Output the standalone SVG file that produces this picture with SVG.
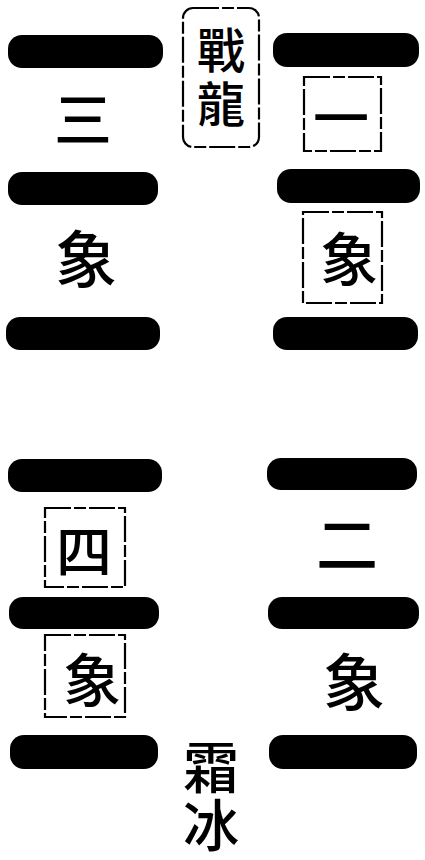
<svg xmlns="http://www.w3.org/2000/svg" width="425" height="860" viewBox="0 0 425 860">
<style>
.bar{fill:#000}
.box{fill:none;stroke:#000;stroke-width:2.2;stroke-dasharray:26 3 12 3}
.t{font-family:"Noto Sans CJK TC","Noto Sans CJK SC",serif;font-weight:500;fill:#000;text-anchor:middle;dominant-baseline:central}
.v{font-family:"Noto Sans CJK TC","Noto Sans CJK SC",serif;font-weight:500;fill:#000;text-anchor:middle;writing-mode:vertical-rl}
</style>
<rect width="425" height="860" fill="#fff"/>
<g id="title">
<rect class="box" x="183" y="8" width="76" height="139" rx="10"/>
<text class="v" x="221" y="80" font-size="48" letter-spacing="6">戰龍</text>
</g>
<g id="left-top-bars">
<rect class="bar" x="8" y="35" width="155" height="33" rx="14"/>
<rect class="bar" x="8" y="172" width="150" height="33" rx="14"/>
<rect class="bar" x="6" y="317" width="154" height="33" rx="14"/>
</g>
<g id="san-xiang">
<text class="t" x="83" y="116" font-size="58">三</text>
<text class="t" x="86" y="256" font-size="62">象</text>
</g>
<g id="right-top-bars">
<rect class="bar" x="273" y="33" width="146" height="34" rx="14"/>
<rect class="bar" x="277" y="169" width="143" height="34" rx="14"/>
<rect class="bar" x="273" y="317" width="145" height="33" rx="14"/>
</g>
<g id="yi-xiang">
<rect class="box" x="304" y="77" width="77" height="74"/>
<text class="t" x="341" y="114" font-size="56">一</text>
<rect class="box" x="303" y="212" width="79" height="91"/>
<text class="t" x="349" y="256" font-size="58">象</text>
</g>
<g id="left-bottom-bars">
<rect class="bar" x="8" y="459" width="154" height="33" rx="14"/>
<rect class="bar" x="9" y="597" width="150" height="32" rx="14"/>
<rect class="bar" x="10" y="735" width="148" height="34" rx="14"/>
</g>
<g id="si-xiang">
<rect class="box" x="45" y="508" width="80" height="79"/>
<text class="t" x="84" y="547" font-size="56">四</text>
<rect class="box" x="45" y="635" width="80" height="82"/>
<text class="t" x="92" y="677" font-size="58">象</text>
</g>
<g id="right-bottom-bars">
<rect class="bar" x="267" y="458" width="150" height="32" rx="14"/>
<rect class="bar" x="268" y="597" width="151" height="32" rx="14"/>
<rect class="bar" x="269" y="735" width="148" height="34" rx="14"/>
</g>
<g id="er-xiang">
<text class="t" x="347" y="541" font-size="62">二</text>
<text class="t" x="354" y="679" font-size="62">象</text>
</g>
<g id="shuang-bing">
<text class="v" x="211" y="797" font-size="56" letter-spacing="2">霜冰</text>
</g>
</svg>
